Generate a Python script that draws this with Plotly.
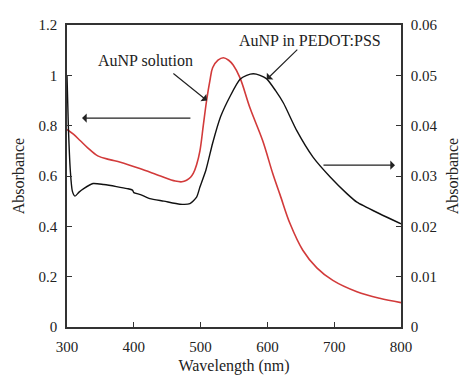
import plotly.graph_objects as go

wl_red = [300, 310, 320, 331, 346, 364, 380, 409, 440, 462, 472, 479, 485, 489, 494, 499, 504, 509, 514, 518, 526, 534, 542, 549, 559, 574, 593, 608, 619, 634, 653, 674, 698, 734, 768, 800]
abs_red = [0.785, 0.765, 0.74, 0.712, 0.68, 0.665, 0.655, 0.63, 0.60, 0.58, 0.577, 0.583, 0.595, 0.61, 0.645, 0.70, 0.80, 0.90, 0.98, 1.03, 1.06, 1.07, 1.06, 1.04, 0.99, 0.87, 0.74, 0.61, 0.525, 0.41, 0.305, 0.235, 0.185, 0.14, 0.114, 0.097]

wl_blk = [300, 302, 305, 308, 312, 318, 325, 339, 355, 374, 390, 398, 400, 410, 424, 445, 469, 484, 494, 499, 508, 518, 530, 544, 559, 569, 579, 589, 599, 612, 624, 644, 668, 694, 719, 734, 768, 800]
abs_blk = [0.050, 0.040, 0.031, 0.027, 0.026, 0.0268, 0.0275, 0.0285, 0.0283, 0.0279, 0.0275, 0.0272, 0.0267, 0.0263, 0.0255, 0.0250, 0.0244, 0.0245, 0.0258, 0.0278, 0.0312, 0.0365, 0.0418, 0.0458, 0.0492, 0.0500, 0.0503, 0.0500, 0.0493, 0.047, 0.0445, 0.039, 0.0338, 0.0298, 0.0265, 0.0248, 0.0225, 0.0205]

x_ticks = [300, 400, 500, 600, 700, 800]
yl_ticks = [0, 0.2, 0.4, 0.6, 0.8, 1, 1.2]
yl_labels = ["0", "0.2", "0.4", "0.6", "0.8", "1", "1.2"]
yr_ticks = [0, 0.01, 0.02, 0.03, 0.04, 0.05, 0.06]
yr_labels = ["0", "0.01", "0.02", "0.03", "0.04", "0.05", "0.06"]

FONT = "Liberation Serif"
AX = "#333333"

fig = go.Figure()
fig.add_trace(go.Scatter(x=wl_red, y=abs_red, mode="lines",
                         line=dict(color="#d23a3a", width=1.6, shape="spline", smoothing=1.0),
                         name="AuNP solution", yaxis="y"))
fig.add_trace(go.Scatter(x=wl_blk, y=abs_blk, mode="lines",
                         line=dict(color="#111111", width=1.4, shape="spline", smoothing=0.6),
                         name="AuNP in PEDOT:PSS", yaxis="y2"))

axcommon = dict(showline=True, linecolor=AX, linewidth=1.5, ticks="inside", ticklen=5,
                tickcolor=AX, tickwidth=1.2, showgrid=False, zeroline=False, automargin=False,
                ticklabelstandoff=5,
                tickfont=dict(family=FONT, size=15, color="#222"))

fig.update_layout(
    width=474, height=389,
    margin=dict(l=59, r=81, t=17, b=70),
    paper_bgcolor="white", plot_bgcolor="white",
    showlegend=False,
    font=dict(family=FONT, size=15, color="#222"),
    xaxis=dict(range=[300, 800], tickvals=x_ticks, mirror=True,
               title=dict(text="Wavelength (nm)", font=dict(family=FONT, size=16), standoff=6),
               **axcommon),
    yaxis=dict(range=[0, 1.2], tickvals=yl_ticks, ticktext=yl_labels,
               title=dict(text="Absorbance", font=dict(family=FONT, size=16), standoff=10),
               **axcommon),
    yaxis2=dict(range=[0, 0.06], tickvals=yr_ticks, ticktext=yr_labels, overlaying="y",
                side="right",
                title=dict(text="Absorbance", font=dict(family=FONT, size=16), standoff=10),
                **axcommon),
)

arrow = dict(showarrow=True, arrowhead=1, arrowsize=1.3, arrowwidth=1.2, arrowcolor="#222",
             xref="x", yref="y", axref="x", ayref="y", text="")

fig.add_annotation(x=509.6, y=0.90, ax=457, ay=1.012, **arrow)
fig.add_annotation(x=322.5, y=0.83, ax=487, ay=0.83, **arrow)
fig.add_annotation(x=599, y=0.984, ax=647, ay=1.108, **arrow)
fig.add_annotation(x=791, y=0.643, ax=681.7, ay=0.643, **arrow)

fig.add_annotation(x=416.8, y=1.06, text="AuNP solution", showarrow=False,
                   xref="x", yref="y", font=dict(family=FONT, size=16, color="#222"))
fig.add_annotation(x=663.8, y=1.139, text="AuNP in PEDOT:PSS", showarrow=False,
                   xref="x", yref="y", font=dict(family=FONT, size=16, color="#222"))

fig.write_html("out.html")
